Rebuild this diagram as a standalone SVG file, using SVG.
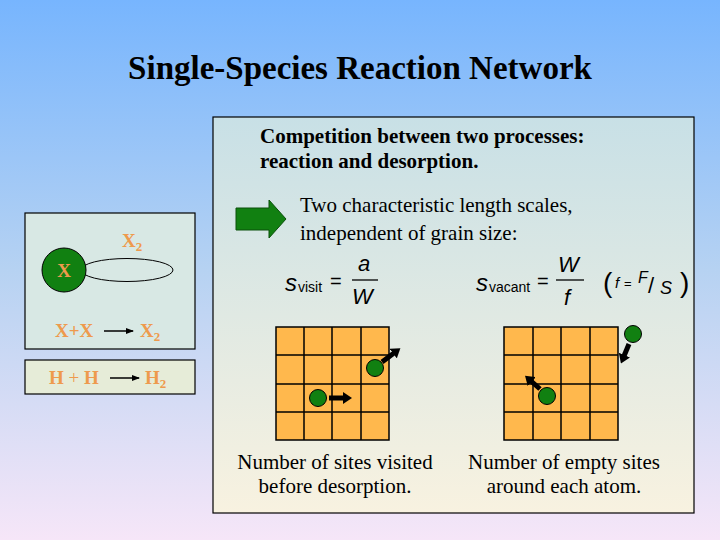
<svg xmlns="http://www.w3.org/2000/svg" width="720" height="540" viewBox="0 0 720 540">
<defs>
<linearGradient id="bg" x1="0" y1="0" x2="0" y2="1"><stop offset="0" stop-color="#77b5fe"/><stop offset="0.5" stop-color="#b6d2f2"/><stop offset="1" stop-color="#f6e6f8"/></linearGradient>
<linearGradient id="pn" x1="0" y1="0" x2="0" y2="1"><stop offset="0" stop-color="#c8e0e6"/><stop offset="1" stop-color="#f8f2e0"/></linearGradient>
<marker id="ah" markerWidth="8" markerHeight="6" refX="7" refY="3" orient="auto" markerUnits="userSpaceOnUse"><path d="M0,0 L8,3 L0,6 Z" fill="#000"/></marker>
<marker id="fat" markerWidth="9" markerHeight="12" refX="1" refY="6" orient="auto" markerUnits="userSpaceOnUse"><path d="M0,0 L9,6 L0,12 Z" fill="#000"/></marker>
</defs>
<style>
.o{font-family:"Liberation Serif",serif;font-weight:bold;fill:#ee9a4d;font-size:19px}
.t{font-family:"Liberation Serif",serif;fill:#000;font-size:21px}
.m{font-family:"Liberation Sans",sans-serif;font-style:italic;fill:#000}
.s{font-family:"Liberation Sans",sans-serif;font-style:normal;fill:#000;font-size:14px}
.g{fill:#ffb84d;stroke:#000;stroke-width:1.5}
.c{fill:#118011;stroke:#000;stroke-width:1}
.a{stroke:#000;stroke-width:5;marker-end:url(#fat)}
</style>
<rect width="720" height="540" fill="url(#bg)"/>
<text x="360" y="79" text-anchor="middle" font-family="Liberation Serif,serif" font-weight="bold" font-size="33">Single-Species Reaction Network</text>
<g id="panel">
<rect x="213" y="117" width="481" height="396" fill="url(#pn)" stroke="#000" stroke-width="1.2"/>
<text class="t" font-weight="bold" x="260" y="143">Competition between two processes:</text>
<text class="t" font-weight="bold" x="260" y="168">reaction and desorption.</text>
<path d="M236,208 H269 V200 L286,219 L269,238 V230 H236 Z" fill="#118011" stroke="#0a500a"/>
<text class="t" x="300" y="212" font-size="22">Two characteristic length scales,</text>
<text class="t" x="300" y="240" font-size="22">independent of grain size:</text>
<text class="m" x="285" y="291" font-size="24">s</text><text class="s" x="298" y="292">visit</text>
<text x="330" y="288" font-family="Liberation Sans,sans-serif" font-size="20">=</text>
<text class="m" x="358" y="271" font-size="22">a</text><line x1="352" y1="280" x2="378" y2="280" stroke="#000" stroke-width="1.3"/><text class="m" x="352" y="304" font-size="22">W</text>
<text class="m" x="476" y="291" font-size="24">s</text><text class="s" x="489" y="292">vacant</text>
<text x="537" y="288" font-family="Liberation Sans,sans-serif" font-size="20">=</text>
<text class="m" x="558" y="272" font-size="22">W</text><line x1="556" y1="280" x2="584" y2="280" stroke="#000" stroke-width="1.3"/><text class="m" x="564" y="305" font-size="22">f</text>
<text x="603" y="292" font-family="Liberation Sans,sans-serif" font-size="28">(</text>
<text class="m" x="615" y="288" font-size="15">f</text><text x="624" y="288" font-family="Liberation Sans,sans-serif" font-size="13">=</text>
<text class="m" x="638" y="283" font-size="16">F</text><text x="648" y="293" font-family="Liberation Sans,sans-serif" font-size="22">/</text><text class="m" x="660" y="294" font-size="18">S</text>
<text x="680" y="292" font-family="Liberation Sans,sans-serif" font-size="28">)</text>
</g>
<g id="grid1">
<rect class="g" x="276" y="327" width="113" height="113"/>
<path d="M304,327V440M332,327V440M361,327V440M276,355H389M276,384H389M276,412H389" stroke="#000" stroke-width="1.5"/>
<line class="a" x1="382" y1="362" x2="394" y2="353"/>
<circle class="c" cx="375" cy="368" r="8.5"/>
<circle class="c" cx="318" cy="398" r="8.5"/>
<line class="a" x1="329" y1="398" x2="344" y2="398"/>
<text class="t" x="335" y="469" text-anchor="middle" font-size="18">Number of sites visited</text>
<text class="t" x="335" y="493" text-anchor="middle" font-size="18">before desorption.</text>
</g>
<g id="grid2">
<rect class="g" x="504" y="327" width="114" height="113"/>
<path d="M533,327V440M561,327V440M590,327V440M504,355H618M504,384H618M504,412H618" stroke="#000" stroke-width="1.5"/>
<circle class="c" cx="633" cy="334" r="8.5"/>
<line class="a" x1="629" y1="344" x2="624" y2="356"/>
<circle class="c" cx="547" cy="396" r="8.5"/>
<line class="a" x1="540" y1="389" x2="531" y2="381"/>
<text class="t" x="564" y="469" text-anchor="middle" font-size="18">Number of empty sites</text>
<text class="t" x="564" y="493" text-anchor="middle" font-size="18">around each atom.</text>
</g>
<g id="box1">
<rect x="25" y="213" width="170" height="136" fill="#d8e8e4" stroke="#000" stroke-width="1.2"/>
<ellipse cx="127" cy="270" rx="46" ry="11.5" fill="none" stroke="#000"/>
<circle cx="64" cy="270" r="22" fill="#118011" stroke="#000"/>
<text class="o" x="64" y="277" text-anchor="middle">X</text>
<text class="o" x="122" y="247">X<tspan font-size="13" dy="4">2</tspan></text>
<text class="o" x="55" y="337">X+X</text>
<line x1="104" y1="331" x2="133" y2="331" stroke="#000" stroke-width="1.5" marker-end="url(#ah)"/>
<text class="o" x="140" y="337">X<tspan font-size="13" dy="4">2</tspan></text>
</g>
<g id="box2">
<rect x="25" y="360" width="170" height="34" fill="#e6ecd8" stroke="#000" stroke-width="1.2"/>
<text class="o" x="49" y="384">H <tspan font-weight="normal">+</tspan> H</text>
<line x1="110" y1="378" x2="139" y2="378" stroke="#000" stroke-width="1.5" marker-end="url(#ah)"/>
<text class="o" x="145" y="384">H<tspan font-size="13" dy="4">2</tspan></text>
</g>
</svg>
